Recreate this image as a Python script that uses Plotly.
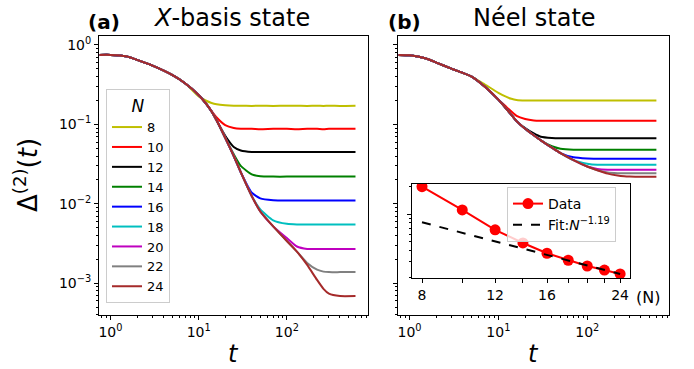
import plotly.graph_objects as go

# ---------------- data ----------------
t = [0.75, 1, 1.5, 2, 3, 5, 7, 10, 12, 14, 16, 20, 25, 30, 40, 50, 70, 100, 130, 170, 220, 260, 300, 400, 600]
N_list = [8, 10, 12, 14, 16, 18, 20, 22, 24]
colors = ["#bfbf00", "#ff0000", "#000000", "#008000", "#0000ff", "#00bfbf", "#bf00bf", "#808080", "#a52a2a"]

# Panel (a): X-basis state  (t = 0.75 ... 7 shared, then t = 10 ... 600)
early_a = [0.75, 0.75, 0.72, 0.65, 0.55, 0.42, 0.33]
a8 = early_a + [0.225, 0.20, 0.186, 0.179, 0.174, 0.172, 0.172, 0.171, 0.172, 0.171, 0.172, 0.172, 0.171, 0.172, 0.171, 0.172, 0.171, 0.172]
a10 = early_a + [0.235, 0.185, 0.148, 0.122, 0.098, 0.090, 0.088, 0.088, 0.087, 0.088, 0.088, 0.087, 0.088, 0.088, 0.087, 0.088, 0.088, 0.088]
a12 = early_a + [0.235, 0.185, 0.145, 0.112, 0.072, 0.052, 0.047, 0.045, 0.045, 0.045, 0.045, 0.045, 0.045, 0.045, 0.045, 0.045, 0.045, 0.045]
a14 = early_a + [0.235, 0.185, 0.145, 0.112, 0.068, 0.042, 0.030, 0.0235, 0.0222, 0.022, 0.022, 0.022, 0.022, 0.022, 0.022, 0.022, 0.022, 0.022]
a16 = early_a + [0.235, 0.185, 0.145, 0.112, 0.068, 0.040, 0.025, 0.0138, 0.0117, 0.0111, 0.011, 0.011, 0.011, 0.011, 0.011, 0.011, 0.011, 0.011]
a18 = early_a + [0.235, 0.185, 0.145, 0.112, 0.068, 0.040, 0.025, 0.0125, 0.0085, 0.0062, 0.0056, 0.0055, 0.0055, 0.0055, 0.0055, 0.0055, 0.0055, 0.0055]
a20 = early_a + [0.235, 0.185, 0.145, 0.112, 0.068, 0.040, 0.025, 0.0125, 0.008, 0.0052, 0.0037, 0.0029, 0.0027, 0.0027, 0.0027, 0.0027, 0.0027, 0.0027]
a22 = early_a + [0.235, 0.185, 0.145, 0.112, 0.068, 0.040, 0.025, 0.0125, 0.008, 0.0052, 0.0034, 0.0025, 0.0018, 0.00148, 0.0014, 0.00138, 0.00138, 0.00138]
a24 = early_a + [0.235, 0.185, 0.145, 0.112, 0.068, 0.040, 0.025, 0.0125, 0.008, 0.0052, 0.0034, 0.0025, 0.0017, 0.0011, 0.00085, 0.00074, 0.00069, 0.00069]

# Panel (b): Neel state  (t = 0.75 ... 5 shared, then t = 7 ... 600)
early_b = [0.75, 0.74, 0.68, 0.60, 0.50, 0.40]
b8 = early_b + [0.32, 0.25, 0.225, 0.21, 0.203, 0.20, 0.20, 0.20, 0.20, 0.20, 0.20, 0.20, 0.20, 0.20, 0.20, 0.20, 0.20, 0.20, 0.20]
b10 = early_b + [0.30, 0.205, 0.17, 0.145, 0.128, 0.117, 0.112, 0.111, 0.111, 0.111, 0.111, 0.111, 0.111, 0.111, 0.111, 0.111, 0.111, 0.111, 0.111]
b12 = early_b + [0.30, 0.205, 0.162, 0.132, 0.110, 0.090, 0.077, 0.070, 0.0675, 0.067, 0.067, 0.067, 0.067, 0.067, 0.067, 0.067, 0.067, 0.067, 0.067]
b14 = early_b + [0.30, 0.205, 0.162, 0.132, 0.110, 0.088, 0.073, 0.063, 0.053, 0.0495, 0.048, 0.048, 0.048, 0.048, 0.048, 0.048, 0.048, 0.048, 0.048]
b16 = early_b + [0.30, 0.205, 0.162, 0.132, 0.110, 0.088, 0.073, 0.063, 0.051, 0.0435, 0.0385, 0.0372, 0.037, 0.037, 0.037, 0.037, 0.037, 0.037, 0.037]
b18 = early_b + [0.30, 0.205, 0.162, 0.132, 0.110, 0.088, 0.073, 0.063, 0.051, 0.0435, 0.0355, 0.032, 0.031, 0.031, 0.031, 0.031, 0.031, 0.031, 0.031]
b20 = early_b + [0.30, 0.205, 0.162, 0.132, 0.110, 0.088, 0.073, 0.063, 0.051, 0.0435, 0.0355, 0.0295, 0.0275, 0.0269, 0.0268, 0.0268, 0.0268, 0.0268, 0.0268]
b22 = early_b + [0.30, 0.205, 0.162, 0.132, 0.110, 0.088, 0.073, 0.063, 0.051, 0.0435, 0.0355, 0.0295, 0.0265, 0.0248, 0.0243, 0.0242, 0.0242, 0.0242, 0.0242]
b24 = early_b + [0.30, 0.205, 0.162, 0.132, 0.110, 0.088, 0.073, 0.063, 0.051, 0.0435, 0.0355, 0.0295, 0.0265, 0.024, 0.0227, 0.0222, 0.022, 0.0219, 0.0219]

# Inset: plateau vs N
inset_N = [8, 10, 12, 14, 16, 18, 20, 22, 24]
inset_vals = [0.20, 0.111, 0.067, 0.048, 0.037, 0.031, 0.0268, 0.0242, 0.0219]
fit_N = [8, 24]
fit_vals = [0.081, 0.0219]
inset_label_N = [8, 12, 16, 24]
inset_minor_N = [10, 14, 18, 20, 22]

series_a = [a8, a10, a12, a14, a16, a18, a20, a22, a24]
series_b = [b8, b10, b12, b14, b16, b18, b20, b22, b24]

# ---------------- figure ----------------
W, H = 694, 369
FONT = "DejaVu Sans"
fig = go.Figure()

for N, c, ya in zip(N_list, colors, series_a):
    fig.add_trace(go.Scatter(x=t, y=ya, mode="lines", name=str(N),
                             line=dict(color=c, width=2, shape="spline", smoothing=0.5),
                             xaxis="x", yaxis="y", legend="legend"))
for N, c, yb in zip(N_list, colors, series_b):
    fig.add_trace(go.Scatter(x=t, y=yb, mode="lines", name=str(N), showlegend=False,
                             line=dict(color=c, width=2, shape="spline", smoothing=0.5),
                             xaxis="x2", yaxis="y2"))

fig.add_trace(go.Scatter(x=inset_N, y=inset_vals, mode="lines+markers", name="Data",
                         line=dict(color="#ff0000", width=2), marker=dict(color="#ff0000", size=11),
                         xaxis="x3", yaxis="y3", legend="legend2"))
fig.add_trace(go.Scatter(x=fit_N, y=fit_vals, mode="lines", name="Fit:<i>N</i><sup>−1.19</sup>",
                         line=dict(color="black", width=2, dash="dash"),
                         xaxis="x3", yaxis="y3", legend="legend2"))


def px(x):
    return x / W


def py(y):
    return 1 - y / H


minor_log = dict(ticks="outside", ticklen=2, tickwidth=0.8, tickcolor="black", dtick="D1", showgrid=False)
common_x = dict(type="log", range=[-0.13, 2.92], showgrid=False, zeroline=False,
                showline=True, linecolor="black", linewidth=1, mirror=True,
                ticks="outside", ticklen=4, tickwidth=0.8, tickcolor="black",
                tickmode="array", tickvals=[1, 10, 100],
                ticktext=["10<sup>0</sup>", "10<sup>1</sup>", "10<sup>2</sup>"],
                tickfont=dict(family=FONT, size=14, color="black"), minor=minor_log)
common_y = dict(type="log", range=[-3.40, 0.113], showgrid=False, zeroline=False,
                showline=True, linecolor="black", linewidth=1, mirror=True,
                ticks="outside", ticklen=4, tickwidth=0.8, tickcolor="black",
                tickmode="array", tickvals=[0.001, 0.01, 0.1, 1],
                ticktext=["10<sup>−3</sup>", "10<sup>−2</sup>", "10<sup>−1</sup>", "10<sup>0</sup>"],
                tickfont=dict(family=FONT, size=14, color="black"), minor=minor_log)

fig.update_layout(
    width=W, height=H, margin=dict(l=0, r=0, t=0, b=0),
    paper_bgcolor="white", plot_bgcolor="white",
    font=dict(family=FONT, color="black"),
    xaxis=dict(common_x, domain=[px(99), px(368)], anchor="y"),
    yaxis=dict(common_y, domain=[py(315), py(36)], anchor="x"),
    xaxis2=dict(common_x, domain=[px(398), px(669)], anchor="y2"),
    yaxis2=dict(common_y, domain=[py(315), py(36)], anchor="x2", showticklabels=False),
    xaxis3=dict(type="log", domain=[px(412), px(630)], anchor="y3", range=[0.879, 1.404],
                showgrid=False, zeroline=False, showline=True, linecolor="black", linewidth=1, mirror=True,
                ticks="outside", ticklen=4, tickwidth=0.8, tickcolor="black",
                tickmode="array", tickvals=inset_label_N, ticktext=[str(n) for n in inset_label_N],
                tickfont=dict(family=FONT, size=14, color="black"),
                minor=dict(ticks="outside", ticklen=4, tickwidth=0.8, tickcolor="black",
                           tickmode="array", tickvals=inset_minor_N, showgrid=False)),
    yaxis3=dict(type="log", domain=[py(278), py(184)], anchor="x3", range=[-1.704, -0.67],
                showgrid=False, zeroline=False, showline=True, linecolor="black", linewidth=1, mirror=True,
                ticks="outside", ticklen=4, tickwidth=0.8, tickcolor="black",
                tickmode="array", tickvals=[0.1], showticklabels=False, minor=minor_log),
    legend=dict(title=dict(text="<i>N</i>", font=dict(family=FONT, size=17), side="top center"),
                x=px(106), y=py(303), xanchor="left", yanchor="bottom",
                bgcolor="rgba(255,255,255,0.8)", bordercolor="#cccccc", borderwidth=1,
                font=dict(family=FONT, size=13, color="black"), itemwidth=30, tracegroupgap=0),
    legend2=dict(x=px(507), y=py(187), xanchor="left", yanchor="top",
                 bgcolor="rgba(255,255,255,0.8)", bordercolor="#cccccc", borderwidth=1,
                 font=dict(family=FONT, size=14, color="black"), itemwidth=30),
)

ann = [
    dict(text="<b>(a)</b>", x=px(104), y=py(22), size=20),
    dict(text="<i>X</i>-basis state", x=px(231), y=py(18), size=24),
    dict(text="<b>(b)</b>", x=px(404), y=py(22), size=20),
    dict(text="Néel state", x=px(534), y=py(18), size=24),
    dict(text="<i>t</i>", x=px(233), y=py(354), size=24),
    dict(text="<i>t</i>", x=px(533), y=py(354), size=24),
    dict(text="(N)", x=px(648), y=py(297), size=16),
]
for a in ann:
    fig.add_annotation(text=a["text"], x=a["x"], y=a["y"], xref="paper", yref="paper",
                       xanchor="center", yanchor="middle", showarrow=False,
                       font=dict(family=FONT, size=a["size"], color="black"))
fig.add_annotation(text="Δ<sup>(2)</sup>(<i>t</i>)", x=px(26), y=py(175), xref="paper", yref="paper",
                   xanchor="center", yanchor="middle", showarrow=False, textangle=-90,
                   font=dict(family=FONT, size=26, color="black"))

fig.write_html("out.html")
